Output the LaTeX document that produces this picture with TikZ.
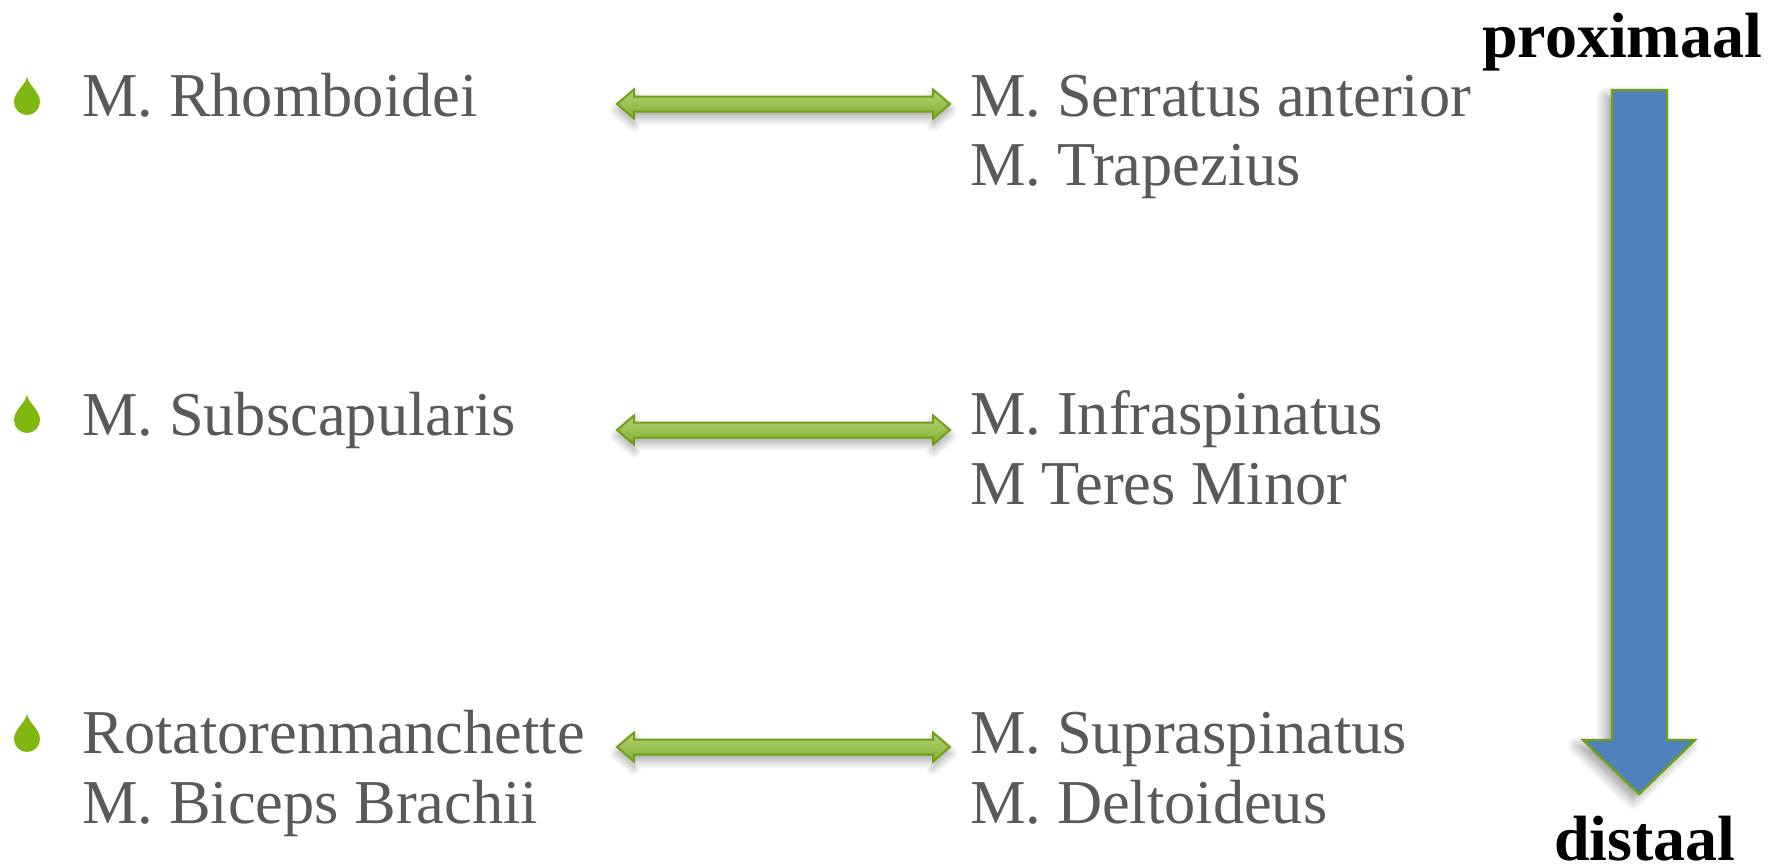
\documentclass[tikz,border=0pt]{standalone}
\usepackage{fontspec}
\setmainfont{Liberation Serif}
\usetikzlibrary{calc,shadows,shadows.blur}
\definecolor{txtgrey}{RGB}{89,89,89}
\definecolor{dropgreen}{RGB}{128,183,18}
\definecolor{arrowrim}{RGB}{112,160,24}
\definecolor{arrowtop}{RGB}{178,210,120}
\definecolor{arrowbot}{RGB}{128,176,50}
\definecolor{bigblue}{RGB}{79,129,189}
\newcommand{\DblArrow}[2]{%
  \path[dblarrow] (#1) -- ($(#1)+(17,-14.5)$) -- ($(#1)+(17,-7.5)$)
    -- ($(#2)+(-17,-7.5)$) -- ($(#2)+(-17,-14.5)$) -- (#2)
    -- ($(#2)+(-17,14.5)$) -- ($(#2)+(-17,7.5)$)
    -- ($(#1)+(17,7.5)$) -- ($(#1)+(17,14.5)$) -- cycle;}
\begin{document}
\begin{tikzpicture}[x=0.5pt,y=-0.5pt,
  lbl/.style={anchor=base west,inner sep=0,text=txtgrey,font=\fontsize{31.2}{34}\selectfont},
  endlbl/.style={anchor=base,inner sep=0,text=black,font=\fontsize{32}{36}\selectfont\bfseries},
  dblarrow/.style={draw=arrowrim,line width=1pt,line join=miter,top color=arrowtop,bottom color=arrowbot,
    blur shadow={shadow xshift=0pt,shadow yshift=-3pt,shadow blur steps=10,shadow blur radius=4pt,shadow opacity=35}},
  bigarrow/.style={draw=arrowrim,line width=1.2pt,fill=bigblue,
    blur shadow={shadow xshift=-3pt,shadow yshift=-3pt,shadow blur steps=10,shadow blur radius=5pt,shadow opacity=40}},
  pics/drop/.style={code={\fill[dropgreen] (0,-25) .. controls (2,-16) and (13,-10) .. (13,0)
      .. controls (13,7.2) and (7.2,13) .. (0,13) .. controls (-7.2,13) and (-13,7.2) .. (-13,0)
      .. controls (-13,-10) and (-2,-16) .. (0,-25) -- cycle;}}
]
\useasboundingbox (0,0) rectangle (1779,868);

% bullets
\pic at (27,102) {drop};
\pic at (27,420) {drop};
\pic at (27,739) {drop};

% left column
\node[lbl] (l1) at (82,116) {M. Rhomboidei};
\node[lbl] (l2) at (82,435) {M. Subscapularis};
\node[lbl] (l3a) at (82,753) {Rotatorenmanchette};
\node[lbl] (l3b) at (82,823) {M. Biceps Brachii};

% right column
\node[lbl] (r1a) at (970,116) {M. Serratus anterior};
\node[lbl] (r1b) at (970,185) {M. Trapezius};
\node[lbl] (r2a) at (970,434) {M. Infraspinatus};
\node[lbl] (r2b) at (970,504) {M Teres Minor};
\node[lbl] (r3a) at (970,753) {M. Supraspinatus};
\node[lbl] (r3b) at (970,823) {M. Deltoideus};

% double arrows
\coordinate (a1l) at (617,104); \coordinate (a1r) at (950,104);
\coordinate (a2l) at (617,430); \coordinate (a2r) at (950,430);
\coordinate (a3l) at (617,747); \coordinate (a3r) at (950,747);
\DblArrow{a1l}{a1r}
\DblArrow{a2l}{a2r}
\DblArrow{a3l}{a3r}

% big down arrow
\node[endlbl] (prox) at (1622,57) {proximaal};
\node[endlbl] (dist) at (1645,860) {distaal};
\coordinate (btop) at (1639.5,90);
\coordinate (btip) at (1639,794);
\path[bigarrow] ($(btop)+(-27.5,0)$) -- ($(btop)+(27.5,0)$) -- (1667,740) -- (1695,740)
  -- (btip) -- (1583,740) -- (1612,740) -- cycle;
\end{tikzpicture}
\end{document}
